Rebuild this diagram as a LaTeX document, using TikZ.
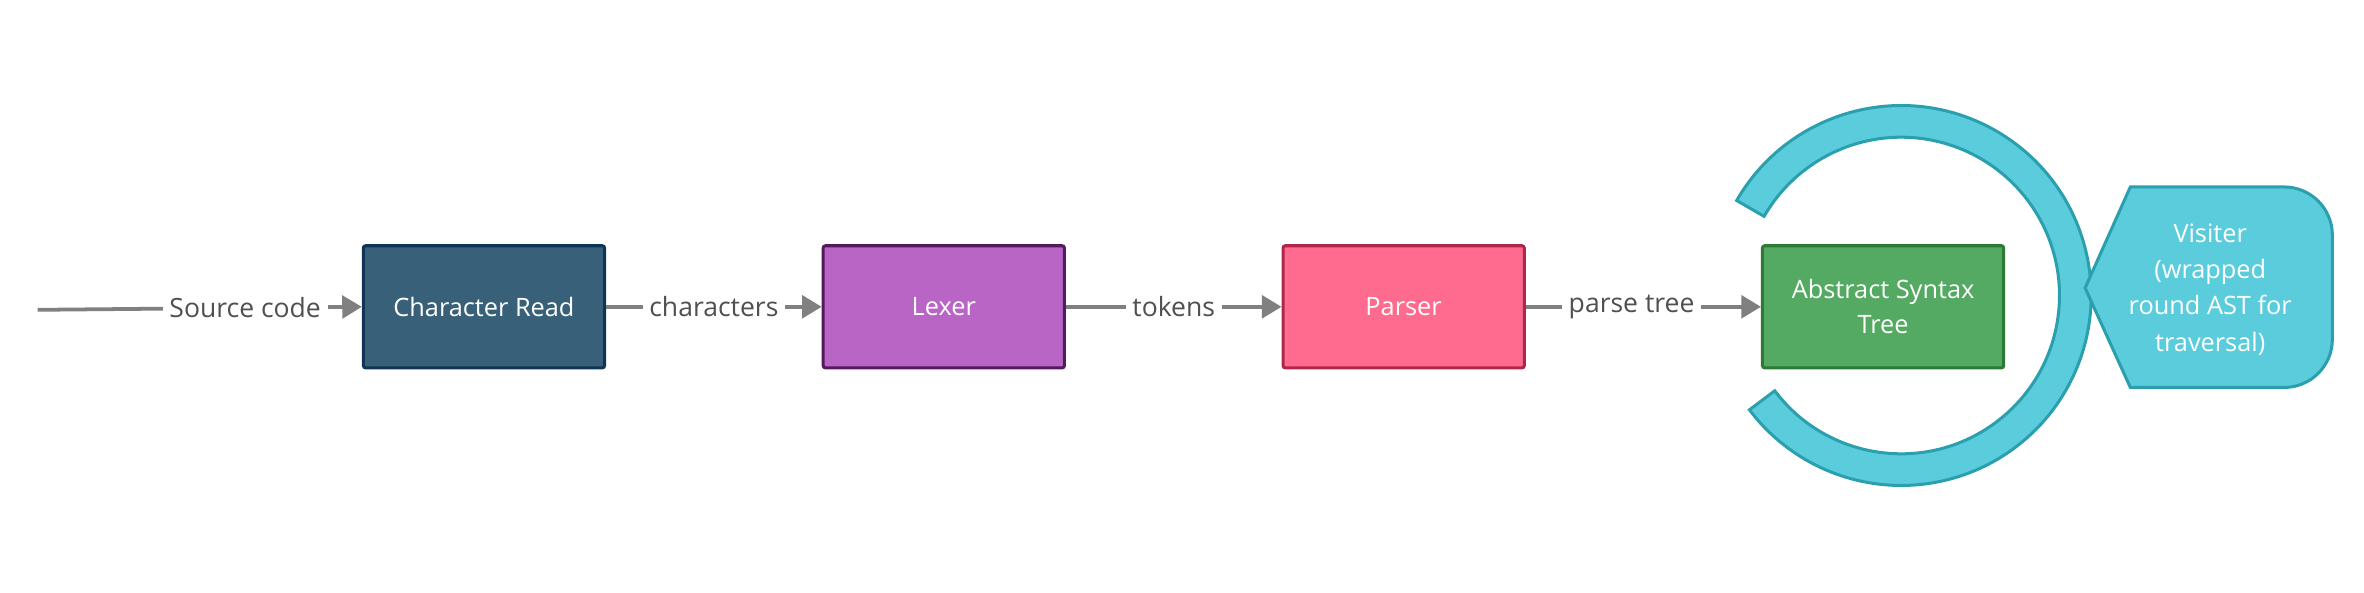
\documentclass[tikz,border=0pt]{standalone}
\usepackage{fontspec}
\setmainfont{Open Sans}
\usetikzlibrary{arrows.meta,calc}
\definecolor{crfill}{HTML}{386179}
\definecolor{crline}{HTML}{0E3556}
\definecolor{lxfill}{HTML}{B865C6}
\definecolor{lxline}{HTML}{541A5E}
\definecolor{psfill}{HTML}{FF6B8E}
\definecolor{psline}{HTML}{B02549}
\definecolor{asfill}{HTML}{54AA62}
\definecolor{asline}{HTML}{2D7A35}
\definecolor{cyfill}{HTML}{5BCCDB}
\definecolor{cyline}{HTML}{2AA0AE}
\definecolor{conn}{HTML}{808080}
\definecolor{lbl}{HTML}{505050}
\tikzset{
  stagebox/.style={draw, line width=2pt, minimum width=160pt, minimum height=81pt,
    rounded corners=1.5pt, text=white, font=\fontsize{16.8}{23}\selectfont, align=center, inner sep=2pt},
  flow/.style={draw=conn, line width=2.5pt, -{Triangle[length=13pt,width=15pt]}},
  flowlabel/.style={fill=white, text=lbl, font=\fontsize{17.6}{20}\selectfont, inner xsep=4.5pt, inner ysep=3pt}
}
\begin{document}
\begin{tikzpicture}[x=1pt,y=1pt]
\useasboundingbox (0,0) rectangle (1568,-393);
\fill[white] (0,0) rectangle (1568,-393);
% ring around AST
\coordinate (rc) at (1261,-196);
\filldraw[fill=cyfill, draw=cyline, line width=2pt]
  ($(rc)+(150:126)$) arc[start angle=150, end angle=-143, radius=126]
  -- ($(rc)+(-143:105)$) arc[start angle=-143, end angle=150, radius=105] -- cycle;
\node[stagebox, fill=crfill, draw=crline] (cr) at (321,-203.5) {Character Read};
\node[stagebox, fill=lxfill, draw=lxline] (lx) at (626,-203.5) {Lexer};
\node[stagebox, fill=psfill, draw=psline] (ps) at (931,-203.5) {Parser};
\node[stagebox, fill=asfill, draw=asline] (as) at (1249,-203.5) {Abstract Syntax\\Tree};
% visiter callout
\filldraw[fill=cyfill, draw=cyline, line width=2pt]
  (1383,-191) -- (1413,-124) [rounded corners=32pt] -- (1547,-124) -- (1547,-257) [sharp corners] -- (1413,-257) -- cycle;
\node[text=white, font=\fontsize{16.8}{24}\selectfont, align=center] (vis) at (1466,-192) {Visiter\\(wrapped\\round AST for\\traversal)};
\coordinate (src) at (25,-205.5);
\draw[flow] (src) -- node[flowlabel, pos=0.64] {Source code} (cr.west);
\draw[flow] (cr.east) -- node[flowlabel] {characters} (lx.west);
\draw[flow] (lx.east) -- node[flowlabel] {tokens} (ps.west);
\draw[flow] (ps.east) -- node[flowlabel, pos=0.45] {parse tree} (as.west);
\end{tikzpicture}
\end{document}
